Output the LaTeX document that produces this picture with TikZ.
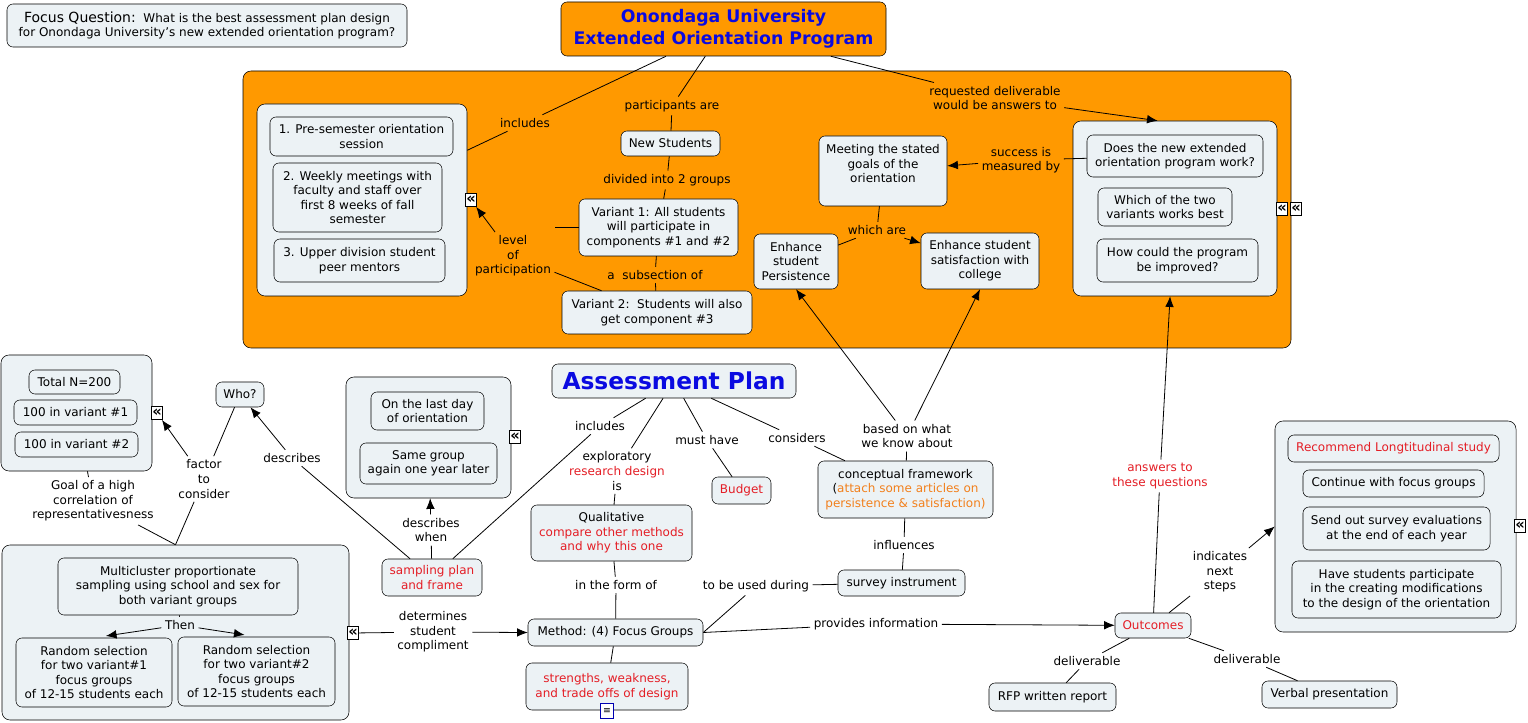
\documentclass[tikz,border=0pt]{standalone}
\usepackage{fontspec}
\setmainfont{DejaVu Sans}
\usetikzlibrary{arrows.meta}

\definecolor{progorange}{RGB}{255,153,0}
\definecolor{boxfill}{RGB}{236,242,245}
\definecolor{titleblue}{RGB}{10,10,225}
\definecolor{notered}{RGB}{228,30,38}
\definecolor{noteorange}{RGB}{242,128,28}
\newcommand{\redtxt}[1]{\textcolor{notered}{#1}}

\begin{document}
\begin{tikzpicture}[x=0.75pt,y=-0.75pt,
    box/.style={draw,rounded corners=4.5pt,fill=boxfill,align=center,inner sep=1pt,
      font=\fontsize{9}{10.9}\selectfont},
    grp/.style={draw,rounded corners=6pt,fill=boxfill,inner sep=0pt},
    lab/.style={align=center,inner sep=2.5pt,font=\fontsize{9}{10.9}\selectfont},
    more/.style={draw,fill=white,inner sep=0pt,minimum width=8.5pt,minimum height=10pt,
      font=\fontsize{11}{11}\selectfont\bfseries},
    wh/.style 2 args={minimum width=#1*0.75pt,minimum height=#2*0.75pt}]

  \path[use as bounding box,fill=white] (0,0) rectangle (1528,723);

  % containers
  \begin{scope}[every node/.style={grp}]
    \node[fill=progorange,wh={1048}{277}] (prog) at (767,209.5) {};
    \node[wh={210}{192}] (comps)  at (362,200)      {};
    \node[wh={204}{175}] (qbox)   at (1175,208.5)   {};
    \node[wh={151}{116}] (sinfo)  at (76.5,413)     {};
    \node[wh={165}{121}] (timing) at (428.5,437.5)  {};
    \node[wh={347}{175}] (multi)  at (175.5,632.5)  {};
    \node[wh={241}{211}] (nbox)   at (1395.5,526.5) {};
  \end{scope}

  % concepts
  \begin{scope}[every node/.style={box}]
    \node[wh={400}{43}] (focus) at (207,25.5)
      {{\fontsize{10.5}{12}\selectfont Focus Question:}\ \ What is the best assessment plan design\\
       for Onondaga University's new extended orientation program?};
    \node[fill=progorange,wh={325}{54},text=titleblue,
      font=\fontsize{13}{16.5}\selectfont\bfseries] (title) at (723.5,29)
      {Onondaga University\\Extended Orientation Program};

    \node[wh={183}{39}] (c1) at (361.5,136.5) {1. Pre-semester orientation\\session};
    \node[wh={169}{69}] (c2) at (357.5,197.5) {2. Weekly meetings with\\faculty and staff over\\first 8 weeks of fall\\semester};
    \node[wh={171}{43}] (c3) at (359.5,260.5) {3. Upper division student\\peer mentors};

    \node[wh={99}{25}]  (newst) at (670.5,143.5) {New Students};
    \node[wh={159}{57}] (var1)  at (658.5,227.5) {Variant 1: All students\\will participate in\\components \#1 and \#2};
    \node[wh={190}{43}] (var2)  at (657,312.5)   {Variant 2:\ \ Students will also\\get component \#3};

    \node[wh={128}{70}]  (meet)  at (883,171)   {Meeting the stated\\goals of the\\orientation\\~};
    \node[wh={84}{55}]   (pers)  at (796,261.5) {Enhance\\student\\Persistence};
    \node[wh={118}{56}]  (satis) at (980,261)   {Enhance student\\satisfaction with\\college};

    \node[wh={176}{42}] (q1) at (1175,156)   {Does the new extended\\orientation program work?};
    \node[wh={134}{38}] (q2) at (1165,207)   {Which of the two\\variants works best};
    \node[wh={161}{43}] (q3) at (1177.5,260.5) {How could the program\\be improved?};

    \node[wh={91}{24}]  (tot) at (74.5,382)   {Total N=200};
    \node[wh={123}{25}] (v1n) at (75.5,412.5) {100 in variant \#1};
    \node[wh={123}{25}] (v2n) at (76.5,444.5) {100 in variant \#2};
    \node[wh={48}{25}]  (who) at (240,394.5)  {Who?};

    \node[wh={113}{38}] (t1) at (427.5,411)   {On the last day\\of orientation};
    \node[wh={137}{41}] (t2) at (428.5,463.5) {Same group\\again one year later};
    \node[wh={100}{37},text=notered] (samp) at (432,577.5) {sampling plan\\and frame};

    \node[wh={240}{57}] (mc) at (178,586.5)  {Multicluster proportionate\\sampling using school and sex for\\both variant groups};
    \node[wh={156}{69}] (r1) at (94,672.5)   {Random selection\\for two variant\#1\\focus groups\\of 12-15 students each};
    \node[wh={157}{69}] (r2) at (256.5,671.5) {Random selection\\for two variant\#2\\focus groups\\of 12-15 students each};

    \node[wh={244}{34},text=titleblue,font=\fontsize{17.5}{20}\selectfont\bfseries] (ap) at (674,381) {Assessment Plan};
    \node[wh={161}{56}] (qual)   at (611.5,533)  {Qualitative\\\redtxt{compare other methods}\\\redtxt{and why this one}};
    \node[wh={59}{27},text=notered] (budget) at (741.5,490.5) {Budget};
    \node[wh={175}{57}] (cf)     at (905.5,489.5) {conceptual framework\\(\textcolor{noteorange}{attach some articles on}\\\textcolor{noteorange}{persistence \& satisfaction)}};
    \node[wh={127}{26}] (survey) at (901.5,583)  {survey instrument};
    \node[wh={175}{27}] (method) at (615.5,632.5) {Method: (4) Focus Groups};
    \node[wh={162}{47},text=notered] (strength) at (607,686.5) {strengths, weakness,\\and trade offs of design};
    \node[wh={76}{25},text=notered]  (outc)  at (1153,625.5) {Outcomes};

    \node[wh={211}{27},text=notered] (n1) at (1393.5,448.5) {Recommend Longtitudinal study};
    \node[wh={181}{27}] (n2) at (1393.5,483.5) {Continue with focus groups};
    \node[wh={187}{43}] (n3) at (1396.5,528.5) {Send out survey evaluations\\at the end of each year};
    \node[wh={209}{57}] (n4) at (1396.5,589.5) {Have students participate\\in the creating modifications\\to the design of the orientation};

    \node[wh={127}{28}] (rfp)    at (1052.5,697) {RFP written report};
    \node[wh={135}{27}] (verbal) at (1329.5,694.5) {Verbal presentation};
  \end{scope}

  % expand marks
  \begin{scope}[every node/.style={more}]
    \node (icA)  at (471,200)  {«};
    \node (icB1) at (1282,209) {«};
    \node (icB2) at (1296,209) {«};
    \node (icC)  at (157,413)  {«};
    \node (icD)  at (515,437)  {«};
    \node (icE)  at (353,633)  {«};
    \node (icF)  at (1520,526) {«};
    \node[draw=blue!70!black,minimum width=10pt,minimum height=11pt,
      font=\fontsize{7}{7}\selectfont] (note) at (607,711) {≡};
  \end{scope}

  % linking phrases
  \begin{scope}[every node/.style={lab}]
    \node (lincA)  at (525,123)  {includes};
    \node (lpart)  at (672,106)  {participants are};
    \node (ldiv)   at (667,180)  {divided into 2 groups};
    \node (llevel) at (513,256)  {level\\of\\participation};
    \node (lsub)   at (655,275)  {a\ \ subsection of};
    \node (lreq)   at (995,98)   {requested deliverable\\would be answers to};
    \node (lsucc)  at (1021,160) {success is\\measured by};
    \node (lwhich) at (877,230)  {which are};

    \node (lfactor) at (204,479) {factor\\to\\consider};
    \node (lgoal)   at (93,501)  {Goal of a high\\correlation of\\representativesness};
    \node (ldesc)   at (292,458) {describes};
    \node (ldescw)  at (431,530) {describes\\when};
    \node (lthen)   at (180,625) {Then};
    \node (ldet)    at (433,632) {determines\\student\\compliment};
    \node (lincB)   at (600,426) {includes};
    \node (lexpl)   at (617,471) {exploratory\\\redtxt{research design}\\is};
    \node (lmust)   at (707,440) {must have};
    \node (lcons)   at (797,438) {considers};
    \node (lbased)  at (907,436) {based on what\\we know about};
    \node (linfl)   at (904,545) {influences};
    \node (lused)   at (756,586) {to be used during};
    \node (lform)   at (616,585) {in the form of};
    \node (lprov)   at (876,624) {provides information};
    \node[text=notered] (lans) at (1160,476) {answers to\\these questions};
    \node (lind)    at (1220,572) {indicates\\next\\steps};
    \node (ldelA)   at (1087,661) {deliverable};
    \node (ldelB)   at (1247,659) {deliverable};
  \end{scope}

  \begin{scope}[every edge/.style={draw,line width=0.6pt}]
    \path (title) edge (lincA);
    \path (lincA) edge (comps);
    \path (title) edge (lpart);
    \path (lpart) edge (newst);
    \path (newst) edge (ldiv);
    \path (ldiv)  edge (var1);
    \path (var1)  edge (lsub);
    \path (lsub)  edge (var2);
    \path (var1.west) edge (llevel.east |- var1.west);
    \path (llevel) edge (var2);
    \path (title) edge (lreq);
    \path (q1)    edge (lsucc);
    \path (meet)  edge (lwhich);
    \path (lwhich) edge (pers);

    \path (who)   edge (lfactor);
    \path (lfactor) edge (multi.north);
    \path (sinfo) edge (lgoal);
    \path (lgoal) edge (multi.north);
    \path (samp)  edge (ldesc);
    \path (samp)  edge (ldescw);
    \path (mc)    edge (lthen);
    \path (icE)   edge (ldet);
    \path (samp)  edge (lincB);
    \path (lincB) edge (ap);
    \path (ap)    edge (lexpl);
    \path (lexpl) edge (qual);
    \path (ap)    edge (lmust);
    \path (lmust) edge (budget);
    \path (ap)    edge (lcons);
    \path (lcons) edge (cf);
    \path (lbased) edge (cf);
    \path (cf)    edge (linfl);
    \path (linfl) edge (survey);
    \path (survey) edge (lused);
    \path (lused) edge (method.east);
    \path (qual)  edge (lform);
    \path (lform) edge (method);
    \path (method) edge (strength);
    \path (method.east) edge (lprov);
    \path (outc)  edge (lans);
    \path (outc)  edge (lind);
    \path (outc)  edge (ldelA);
    \path (ldelA) edge (rfp);
    \path (outc)  edge (ldelB);
    \path (ldelB) edge (verbal);
  \end{scope}

  \begin{scope}[every edge/.style={draw,line width=0.6pt,-{Latex[length=8pt,width=6.5pt]}}]
    \path (llevel) edge (icA);
    \path (lreq)   edge ([xshift=-13pt]qbox.north);
    \path (lsucc)  edge (meet);
    \path (lwhich) edge (satis);
    \path (lfactor) edge (icC);
    \path (ldesc)  edge (who);
    \path (ldescw) edge (timing);
    \path[shorten >=9pt] (lthen) edge (r1.north);
    \path[shorten >=9pt] (lthen) edge (r2.north);
    \path (ldet)   edge (method.west);
    \path (lbased) edge (pers.south);
    \path (lbased) edge (satis.south);
    \path (lprov)  edge (outc);
    \path (lans)   edge (qbox);
    \path (lind)   edge (nbox.west);
  \end{scope}

\end{tikzpicture}
\end{document}
